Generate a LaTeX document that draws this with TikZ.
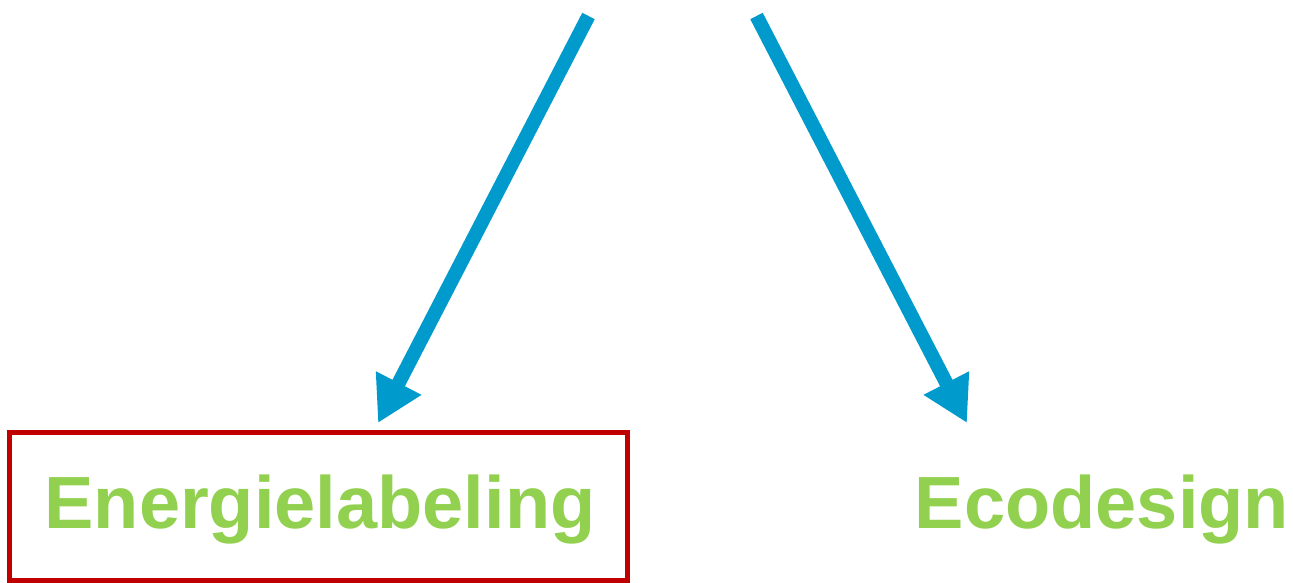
\documentclass[tikz,border=0pt]{standalone}
\usepackage{fontspec}
\setmainfont{Liberation Sans}
\usetikzlibrary{arrows.meta}
\definecolor{arrowblue}{RGB}{0,155,204}
\definecolor{labelgreen}{RGB}{146,208,80}
\definecolor{boxred}{RGB}{192,0,0}
\tikzset{
  bigarrow/.style={draw=arrowblue, line width=14pt, -{Triangle[length=45pt,width=48pt]}},
  labeltext/.style={text=labelgreen, font=\fontsize{74}{88}\selectfont\bfseries, inner sep=0pt, anchor=base},
  redbox/.style={draw=boxred, line width=5pt, minimum width=617.5pt, minimum height=148pt, inner sep=0pt}
}
\begin{document}
\begin{tikzpicture}[x=1pt,y=-1pt]
\useasboundingbox (0,0) rectangle (1293,583);
\node[redbox] (elbox) at (318.25,506.5) {};
\node[labeltext] (eltext) at (320,528) {Energielabeling};
\node[labeltext] (ectext) at (1102,528) {Ecodesign};
\coordinate (s1) at (588.5,16);
\coordinate (t1) at (378,423);
\coordinate (s2) at (756.5,16);
\coordinate (t2) at (967,423);
\draw[bigarrow] (s1) -- (t1);
\draw[bigarrow] (s2) -- (t2);
\end{tikzpicture}
\end{document}
